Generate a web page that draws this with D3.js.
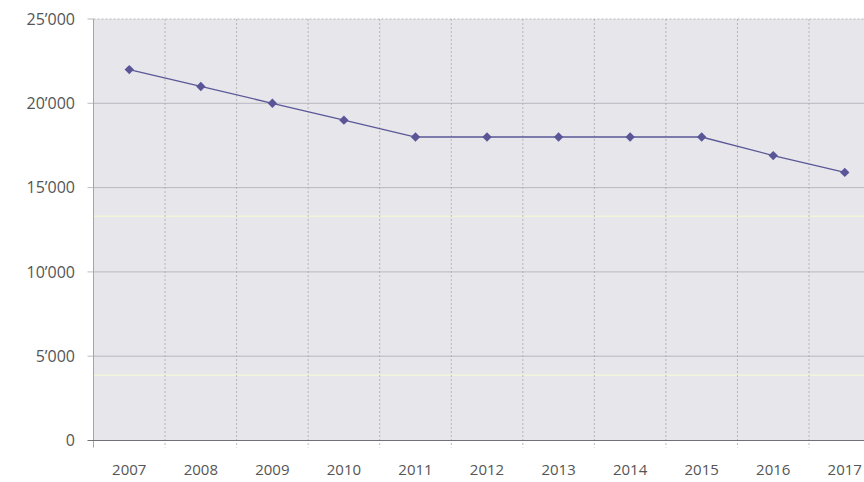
<!DOCTYPE html>
<html>
<head>
<meta charset="utf-8">
<script src="https://cdn.jsdelivr.net/npm/d3@7"></script>
<style>
  html, body { margin: 0; padding: 0; background: #ffffff; }
  svg { display: block; }
  text { font-family: "Open Sans", "Noto Sans", sans-serif; font-weight: 400; fill: #555555; }
</style>
</head>
<body>
<svg id="chart" width="864" height="482"></svg>
<script>
// Yearly totals
const years = ["2007","2008","2009","2010","2011","2012","2013","2014","2015","2016","2017"];
const values = [22000, 21000, 20000, 19000, 18000, 18000, 18000, 18000, 18000, 16900, 15900];
const yTicks = [0, 5000, 10000, 15000, 20000, 25000];

const svg = d3.select("#chart");
const plotLeft = 93.5, plotTop = 19, plotBottom = 440.5;
const step = 71.55;
const plotRight = plotLeft + step * years.length;

const x = d3.scaleBand().domain(years).range([plotLeft, plotRight]).paddingInner(0).paddingOuter(0);
const y = d3.scaleLinear().domain([0, 25000]).range([plotBottom, plotTop]);

// thousands separator as an apostrophe
const fmt = v => v === 0 ? "0" : d3.format(",")(v).replace(/,/g, "\u2019");

// plot background
svg.append("rect")
  .attr("x", plotLeft).attr("y", plotTop)
  .attr("width", plotRight - plotLeft).attr("height", plotBottom - plotTop)
  .attr("fill", "#e6e6eb");

// faint light streaks across the plot
[13300, 3870].forEach(v => {
  svg.append("line")
    .attr("x1", plotLeft).attr("x2", plotRight)
    .attr("y1", y(v)).attr("y2", y(v))
    .attr("stroke", "#f1f5da").attr("stroke-width", 1.5);
});

// horizontal grid
svg.append("g").selectAll("line")
  .data(yTicks.filter(d => d > 0 && d < 25000))
  .join("line")
  .attr("x1", plotLeft - 6).attr("x2", plotRight)
  .attr("y1", d => y(d)).attr("y2", d => y(d))
  .attr("stroke", "#acacb4").attr("stroke-width", 0.8);

// vertical grid between years (dashed)
svg.append("g").selectAll("line")
  .data(years.slice(1))
  .join("line")
  .attr("x1", d => x(d)).attr("x2", d => x(d))
  .attr("y1", plotTop).attr("y2", plotBottom + 7)
  .attr("stroke", "#a8a8ae").attr("stroke-width", 0.8)
  .attr("stroke-dasharray", "2,2");

// top border (dashed)
svg.append("line")
  .attr("x1", plotLeft).attr("x2", plotRight)
  .attr("y1", plotTop).attr("y2", plotTop)
  .attr("stroke", "#a4a4aa").attr("stroke-width", 0.8)
  .attr("stroke-dasharray", "2,2");
// top tick
svg.append("line")
  .attr("x1", plotLeft - 6).attr("x2", plotLeft)
  .attr("y1", plotTop).attr("y2", plotTop)
  .attr("stroke", "#a4a4aa").attr("stroke-width", 0.8);

// left border
svg.append("line")
  .attr("x1", plotLeft).attr("x2", plotLeft)
  .attr("y1", plotTop).attr("y2", plotBottom + 7)
  .attr("stroke", "#a4a4aa").attr("stroke-width", 1);

// x axis line
svg.append("line")
  .attr("x1", plotLeft - 6).attr("x2", plotRight)
  .attr("y1", plotBottom).attr("y2", plotBottom)
  .attr("stroke", "#707076").attr("stroke-width", 1.2);

// y labels
svg.append("g").selectAll("text")
  .data(yTicks)
  .join("text")
  .attr("x", 75).attr("y", d => y(d))
  .attr("dy", "0.36em")
  .attr("text-anchor", "end")
  .attr("font-size", 16)
  .text(fmt);

// x labels
svg.append("g").selectAll("text")
  .data(years)
  .join("text")
  .attr("x", d => x(d) + x.bandwidth() / 2)
  .attr("y", 475)
  .attr("text-anchor", "middle")
  .attr("font-size", 15)
  .text(d => d);

// series line
const cx = d => x(d) + x.bandwidth() / 2;
const line = d3.line().x((d, i) => cx(years[i])).y(d => y(d));
svg.append("path")
  .datum(values)
  .attr("d", line)
  .attr("fill", "none")
  .attr("stroke", "#5b5898")
  .attr("stroke-width", 1.3);

// diamond markers
svg.append("g").selectAll("path")
  .data(values)
  .join("path")
  .attr("transform", (d, i) => `translate(${cx(years[i])},${y(d)})`)
  .attr("d", d3.symbol(d3.symbolDiamond2, 56)())
  .attr("fill", "#5a5597");
</script>
</body>
</html>
